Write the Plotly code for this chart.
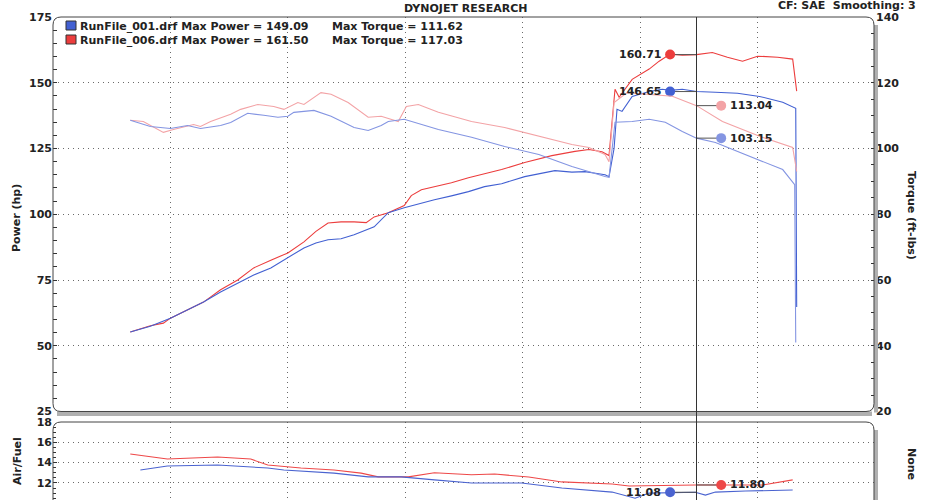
import plotly.graph_objects as go

# ---------------- data ----------------
# RunFile_001 power (hp)
rpm_p1 = [2658, 2829, 3000, 3282, 3427, 3573, 3709, 3855, 4000, 4137,
          4239, 4342, 4453, 4564, 4735, 4855, 4991, 5077, 5248, 5393,
          5538, 5675, 5820, 6017, 6162, 6274, 6419, 6530, 6633, 6701,
          6735, 6778, 6803, 6846, 6932, 7077, 7188, 7256, 7359, 7480,
          7641, 7829, 8017, 8128, 8214, 8325, 8333]
pow_p1 = [55.2, 57.4, 60.5, 66.6, 70.4, 73.9, 76.9, 79.6, 83.4, 87.2,
          89.1, 90.3, 90.7, 92.2, 95.2, 100.6, 102.5, 103.6, 105.5, 107.0,
          108.6, 110.5, 111.6, 114.3, 115.5, 116.6, 116.0, 116.2, 115.5, 115.0,
          114.3, 125.0, 139.9, 139.1, 144.8, 146.7, 147.5, 147.1, 147.5, 146.65,
          146.4, 146.0, 144.8, 143.5, 142.6, 140.3, 64.7]

# RunFile_006 power (hp)
rpm_p6 = [2658, 2829, 2940, 3000, 3282, 3427, 3573, 3709, 3855, 4000,
          4137, 4239, 4342, 4453, 4564, 4667, 4735, 4855, 4991, 5051,
          5137, 5248, 5393, 5538, 5675, 5820, 6017, 6248, 6445, 6564,
          6675, 6735, 6786, 6821, 6932, 7077, 7162, 7256, 7359, 7480,
          7615, 7743, 7872, 8000, 8171, 8299, 8333]
pow_p6 = [55.2, 57.6, 58.6, 60.5, 66.6, 71.3, 75.0, 79.6, 82.5, 85.3,
          89.5, 93.5, 96.7, 97.1, 97.1, 96.8, 99.0, 100.6, 103.3, 107.1,
          109.3, 110.5, 112.0, 113.9, 115.5, 117.0, 119.7, 122.3, 123.9, 124.6,
          123.8, 122.3, 147.5, 144.5, 151.3, 155.2, 158.2, 160.9, 160.5, 160.71,
          161.5, 159.7, 158.2, 160.1, 159.7, 159.0, 146.8]

# RunFile_001 torque (ft-lbs)
rpm_t1 = [2658, 2829, 3000, 3145, 3256, 3427, 3513, 3658, 3795, 3915,
          4000, 4051, 4222, 4368, 4564, 4684, 4795, 4855, 4991, 5137,
          5282, 5564, 5846, 6137, 6419, 6701, 6735, 6786, 6932, 7077,
          7214, 7359, 7480, 7641, 7932, 8214, 8316, 8325]
tq_t1 = [108.6, 106.7, 106.1, 107.0, 106.1, 107.0, 107.9, 110.7, 110.1, 109.5,
         109.8, 111.0, 111.6, 109.8, 106.4, 105.5, 107.0, 108.2, 108.9, 107.3,
         105.8, 103.4, 100.6, 98.2, 94.5, 91.5, 91.2, 108.0, 108.2, 108.9,
         108.0, 105.2, 103.15, 101.8, 97.6, 93.6, 89.0, 41.0]

# RunFile_006 torque (ft-lbs)
rpm_t6 = [2658, 2769, 2940, 3026, 3197, 3256, 3342, 3513, 3598, 3744,
          3880, 3966, 4085, 4137, 4282, 4368, 4513, 4684, 4795, 4940,
          5009, 5111, 5282, 5564, 5846, 6137, 6419, 6564, 6701, 6735,
          6778, 6889, 7060, 7274, 7480, 7701, 8017, 8299, 8333]
tq_t6 = [108.6, 108.2, 104.9, 105.8, 107.3, 106.7, 108.2, 110.4, 111.9, 113.4,
         112.8, 111.9, 114.0, 113.4, 117.0, 116.5, 114.0, 109.5, 109.8, 108.2,
         112.8, 113.4, 111.0, 108.2, 106.4, 103.7, 101.2, 100.3, 98.2, 96.0,
         114.0, 117.0, 116.5, 115.9, 113.04, 108.2, 103.7, 100.3, 93.0]

# Air/Fuel
rpm_a6 = [2658, 2974, 3402, 3684, 3829, 4111, 4393, 4624, 4769, 5026,
          5248, 5564, 5761, 6051, 6333, 6761, 6906, 7470, 8043, 8299]
afr_a6 = [14.85, 14.35, 14.55, 14.35, 13.76, 13.47, 13.27, 12.97, 12.6, 12.6,
          13.0, 12.8, 12.88, 12.58, 12.1, 11.9, 11.7, 11.8, 11.8, 12.3]
rpm_a1 = [2744, 2974, 3402, 3829, 3966, 4393, 4684, 4966, 5248, 5564,
          5991, 6333, 6761, 6906, 6957, 7077, 7470, 7556, 7641, 7897, 8299]
afr_a1 = [13.27, 13.67, 13.76, 13.47, 13.27, 12.97, 12.6, 12.6, 12.3, 12.0,
          12.0, 11.5, 11.1, 10.6, 10.5, 11.0, 11.08, 10.8, 11.1, 11.2, 11.3]

# cursor readouts
cursor_rpm = 7480
cursor_power = [146.65, 160.71]   # run 001, run 006
cursor_torque = [103.15, 113.04]
cursor_afr = [11.08, 11.80]

legend_rows = [("RunFile_001.drf", "149.09", "111.62"),
               ("RunFile_006.drf", "161.50", "117.03")]

# ---------------- styles ----------------
C_P1, C_P6 = "#4260d2", "#ec3d3d"
C_T1, C_T6 = "#8495e2", "#f3a3a6"
C_A1, C_A6 = "#4a63d0", "#ee4848"
FONT = "DejaVu Sans"
W, H = 935, 500
PL, PR, PT = 53, 875, 17          # plot area edges in window pixels
ML, MR, MT, MB = PL, W - PR, PT, 0
PW, PH = PR - PL, H - PT


def px(x):
    return (x - PL) / PW


def py(y):
    return (H - y) / PH


TOP_BOTTOM = 411.5
BOT_TOP = 422
dom_top = [py(TOP_BOTTOM), 1.0]
dom_bot = [0.0, py(BOT_TOP)]

fig = go.Figure()

line_w = 1.1
fig.add_trace(go.Scatter(x=rpm_t6, y=tq_t6, mode="lines", line=dict(color=C_T6, width=line_w),
                         xaxis="x", yaxis="y2", hoverinfo="skip"))
fig.add_trace(go.Scatter(x=rpm_t1, y=tq_t1, mode="lines", line=dict(color=C_T1, width=line_w),
                         xaxis="x", yaxis="y2", hoverinfo="skip"))
fig.add_trace(go.Scatter(x=rpm_p6, y=pow_p6, mode="lines", line=dict(color=C_P6, width=line_w),
                         xaxis="x", yaxis="y", hoverinfo="skip"))
fig.add_trace(go.Scatter(x=rpm_p1, y=pow_p1, mode="lines", line=dict(color=C_P1, width=line_w),
                         xaxis="x", yaxis="y", hoverinfo="skip"))
fig.add_trace(go.Scatter(x=rpm_a6, y=afr_a6, mode="lines", line=dict(color=C_A6, width=line_w),
                         xaxis="x2", yaxis="y3", hoverinfo="skip"))
fig.add_trace(go.Scatter(x=rpm_a1, y=afr_a1, mode="lines", line=dict(color=C_A1, width=line_w),
                         xaxis="x2", yaxis="y3", hoverinfo="skip"))

# cursor readout markers with leader lines
LEFT_OFF, RIGHT_OFF = -225, 210
readouts = [
    (cursor_power[0], "y", "x", C_P1, LEFT_OFF),
    (cursor_power[1], "y", "x", C_P6, LEFT_OFF),
    (cursor_torque[0], "y2", "x", C_T1, RIGHT_OFF),
    (cursor_torque[1], "y2", "x", C_T6, RIGHT_OFF),
    (cursor_afr[0], "y3", "x2", C_A1, LEFT_OFF),
    (cursor_afr[1], "y3", "x2", C_A6, RIGHT_OFF),
]
annotations = []
for val, yref, xref, col, off in readouts:
    mx = cursor_rpm + off
    fig.add_trace(go.Scatter(x=[mx, cursor_rpm], y=[val, val], mode="lines",
                             line=dict(color="#555555", width=1),
                             xaxis=xref, yaxis=yref, hoverinfo="skip"))
    fig.add_trace(go.Scatter(x=[mx], y=[val], mode="markers",
                             marker=dict(color=col, size=10, line=dict(width=0)),
                             xaxis=xref, yaxis=yref, hoverinfo="skip"))
    annotations.append(dict(
        x=mx, y=val, xref=xref, yref=yref, text=f"{val:.2f}", showarrow=False,
        xanchor="right" if off < 0 else "left", yanchor="middle",
        xshift=-7 if off < 0 else 7,
        font=dict(family=FONT, size=11, color="#222", weight="bold")))

tickfont = dict(family=FONT, size=11, color="#222", weight="bold")
grid = dict(showgrid=True, gridcolor="#6a6a6a", gridwidth=1, griddash="1px,4px",
            zeroline=False, automargin=False)

fig.update_layout(
    template="none",
    width=W, height=H, margin=dict(l=ML, r=MR, t=MT, b=MB, autoexpand=False),
    paper_bgcolor="white", plot_bgcolor="white", showlegend=False, hovermode=False,
    font=dict(family=FONT, color="#222"),
    xaxis=dict(domain=[0, 1], range=[2000, 9000], anchor="y", dtick=1000, tick0=2000,
               showticklabels=False, ticks="", showline=False, **grid),
    xaxis2=dict(domain=[0, 1], range=[2000, 9000], anchor="y3", matches="x", dtick=1000,
                tick0=2000, showticklabels=False, ticks="", showline=False, **grid),
    yaxis=dict(domain=dom_top, range=[25, 175], dtick=25, tick0=25, ticks="inside", ticklen=4,
               tickcolor="#333", tickfont=tickfont, anchor="x", showline=False,
               minor=dict(dtick=5, ticks="inside", ticklen=4, tickcolor="#333", showgrid=False),
               **grid),
    yaxis2=dict(range=[20, 140], dtick=20, tick0=20, overlaying="y", side="right", anchor="x",
                ticks="inside", ticklen=4, tickcolor="#333", tickfont=tickfont, showgrid=False,
                zeroline=False, automargin=False, showline=False,
                minor=dict(dtick=5, ticks="inside", ticklen=4, tickcolor="#333", showgrid=False)),
    yaxis3=dict(domain=dom_bot, range=[10.32, 18], dtick=2, tick0=10, ticks="inside", ticklen=4,
                tickcolor="#333", tickfont=tickfont, anchor="x2", showline=False,
                minor=dict(dtick=0.5, ticks="inside", ticklen=3, tickcolor="#333", showgrid=False),
                **grid),
)

# ---------------- frames (rounded panels with shadow) ----------------
R = 8
L, RT = 53, 874


def pt(x, y):
    return f"{px(x):.5f},{py(y):.5f}"


top_path = (f"M{pt(L, TOP_BOTTOM - R)} L{pt(L, PT + R)} Q{pt(L, PT)} {pt(L + R, PT)} "
            f"L{pt(RT - R, PT)} Q{pt(RT, PT)} {pt(RT, PT + R)} L{pt(RT, TOP_BOTTOM - R)} "
            f"Q{pt(RT, TOP_BOTTOM)} {pt(RT - R, TOP_BOTTOM)} L{pt(L + R, TOP_BOTTOM)} "
            f"Q{pt(L, TOP_BOTTOM)} {pt(L, TOP_BOTTOM - R)} Z")
bot_path = (f"M{pt(L, 520)} L{pt(L, BOT_TOP + R)} Q{pt(L, BOT_TOP)} {pt(L + R, BOT_TOP)} "
            f"L{pt(RT - R, BOT_TOP)} Q{pt(RT, BOT_TOP)} {pt(RT, BOT_TOP + R)} L{pt(RT, 520)}")
shapes = [
    # shadows
    dict(type="rect", xref="paper", yref="paper", x0=px(L + 4), x1=px(RT - 2),
         y0=py(TOP_BOTTOM + 4.5), y1=py(TOP_BOTTOM), fillcolor="#b0b0b0", line=dict(width=0),
         layer="above"),
    dict(type="rect", xref="paper", yref="paper", x0=px(RT), x1=px(RT + 4),
         y0=py(TOP_BOTTOM + 1), y1=py(PT + 8), fillcolor="#b0b0b0", line=dict(width=0),
         layer="above"),
    dict(type="rect", xref="paper", yref="paper", x0=px(RT), x1=px(RT + 4),
         y0=py(520), y1=py(BOT_TOP + 8), fillcolor="#b0b0b0", line=dict(width=0),
         layer="above"),
    dict(type="path", xref="paper", yref="paper", path=top_path,
         line=dict(color="#444", width=1), layer="above"),
    dict(type="path", xref="paper", yref="paper", path=bot_path,
         line=dict(color="#444", width=1), layer="above"),
    # cursor
    dict(type="line", xref="x", yref="paper", x0=cursor_rpm, x1=cursor_rpm, y0=0, y1=py(PT),
         line=dict(color="#333", width=1), layer="above"),
]
# legend swatches
for i, col in enumerate([C_P1, C_P6]):
    y0 = 21 + i * 14
    shapes.append(dict(type="rect", xref="paper", yref="paper", x0=px(66), x1=px(76),
                       y0=py(y0 + 9), y1=py(y0), fillcolor=col,
                       line=dict(color="#333", width=1), layer="above"))

bold = dict(family=FONT, size=11, color="#222", weight="bold")
for i, (name, mp, mt) in enumerate(legend_rows):
    yy = 27 + i * 14
    annotations.append(dict(xref="paper", yref="paper", x=px(78), y=py(yy), xanchor="left",
                            yanchor="middle", showarrow=False, font=bold,
                            text=f"{name} Max Power = {mp}"))
    annotations.append(dict(xref="paper", yref="paper", x=px(330), y=py(yy), xanchor="left",
                            yanchor="middle", showarrow=False, font=bold,
                            text=f"Max Torque = {mt}"))

annotations += [
    dict(xref="paper", yref="paper", x=px(465), y=py(8), text="DYNOJET RESEARCH",
         showarrow=False, xanchor="center", yanchor="middle", font=bold),
    dict(xref="paper", yref="paper", x=px(918), y=py(6), text="CF: SAE&nbsp; Smoothing: 3",
         showarrow=False, xanchor="right", yanchor="middle", font=bold),
    dict(xref="paper", yref="paper", x=px(16), y=py(218), text="Power (hp)", textangle=-90,
         showarrow=False, xanchor="center", yanchor="middle", font=bold),
    dict(xref="paper", yref="paper", x=px(912), y=py(215), text="Torque (ft-lbs)", textangle=90,
         showarrow=False, xanchor="center", yanchor="middle", font=bold),
    dict(xref="paper", yref="paper", x=px(17), y=py(461), text="Air/Fuel", textangle=-90,
         showarrow=False, xanchor="center", yanchor="middle", font=bold),
    dict(xref="paper", yref="paper", x=px(912), y=py(464), text="None", textangle=90,
         showarrow=False, xanchor="center", yanchor="middle", font=bold),
]

fig.update_layout(shapes=shapes, annotations=annotations)
fig.write_html("out.html",
               config={"displayModeBar": False, "staticPlot": True},
               post_script="document.body.style.margin='0';"
                           "document.body.style.overflow='hidden';")
